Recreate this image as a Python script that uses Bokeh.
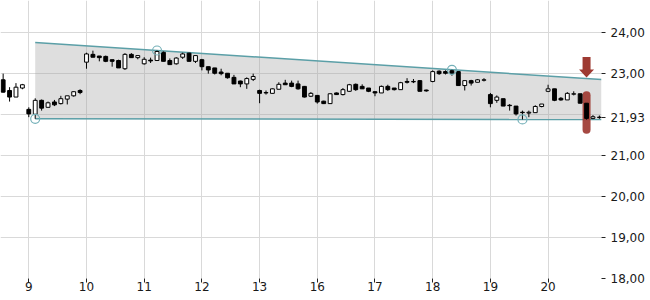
import numpy as np
from bokeh.plotting import figure
from bokeh.models import (Range1d, LinearAxis, FixedTicker, CustomJSTickFormatter,
                          Grid, ColumnDataSource)
from bokeh.embed import file_html
from bokeh.resources import INLINE

# ---------------- data ----------------
day_labels = ["9", "10", "11", "12", "13", "16", "17", "18", "19", "20"]
bars_per_day = 9
first_bar = -4  # four bars of the previous session are visible

opens = [22.84, 22.58, 22.42, 22.64,
         22.12, 22.00, 22.34, 22.17, 22.30, 22.26, 22.37, 22.45, 22.58,
         23.27, 23.46, 23.42, 23.41, 23.33, 23.31, 23.11, 23.46, 23.38,
         23.23, 23.32, 23.31, 23.51, 23.31, 23.23, 23.39, 23.49, 23.29,
         23.33, 23.16, 23.13, 23.03, 23.00, 22.90, 22.81, 22.74, 22.85,
         22.58, 22.52, 22.51, 22.61, 22.76, 22.76, 22.74, 22.68, 22.44,
         22.46, 22.32, 22.26, 22.52, 22.48, 22.56, 22.73, 22.68, 22.64,
         22.55, 22.52, 22.68, 22.64, 22.60, 22.80, 22.79, 22.82, 22.59,
         22.80, 23.05, 23.04, 23.06, 23.04, 22.70, 22.82, 22.78, 22.83,
         22.48, 22.34, 22.38, 22.22, 22.20, 22.05, 22.03, 22.04, 22.19,
         22.56, 22.62, 22.39, 22.35, 22.49, 22.50, 22.27, 21.90, 21.92]
highs = [22.99, 22.66, 22.76, 22.74,
         22.17, 22.39, 22.36, 22.31, 22.35, 22.45, 22.45, 22.56, 22.61,
         23.50, 23.55, 23.42, 23.43, 23.33, 23.33, 23.49, 23.49, 23.43,
         23.39, 23.38, 23.554, 23.53, 23.36, 23.39, 23.50, 23.50, 23.43,
         23.35, 23.16, 23.13, 23.11, 23.00, 22.96, 22.82, 22.90, 22.99,
         22.60, 22.58, 22.63, 22.78, 22.84, 22.82, 22.82, 22.69, 22.54,
         22.47, 22.33, 22.51, 22.53, 22.64, 22.74, 22.75, 22.73, 22.64,
         22.56, 22.70, 22.72, 22.64, 22.79, 22.88, 22.86, 22.83, 22.60,
         23.07, 23.07, 23.07, 23.084, 23.05, 22.82, 22.84, 22.86, 22.88,
         22.52, 22.46, 22.38, 22.25, 22.20, 22.09, 22.09, 22.22, 22.25,
         22.72, 22.62, 22.42, 22.54, 22.56, 22.50, 22.27, 21.98, 21.97]
lows = [22.53, 22.31, 22.42, 22.61,
        21.93, 21.89, 22.09, 22.17, 22.20, 22.24, 22.24, 22.43, 22.49,
        23.11, 23.39, 23.29, 23.27, 23.16, 23.13, 23.08, 23.38, 23.34,
        23.21, 23.25, 23.31, 23.29, 23.21, 23.21, 23.35, 23.29, 23.25,
        23.07, 22.99, 22.97, 22.95, 22.87, 22.74, 22.66, 22.62, 22.81,
        22.27, 22.48, 22.51, 22.61, 22.72, 22.66, 22.60, 22.41, 22.42,
        22.26, 22.25, 22.26, 22.47, 22.46, 22.55, 22.57, 22.62, 22.54,
        22.44, 22.52, 22.57, 22.58, 22.60, 22.75, 22.76, 22.56, 22.55,
        22.78, 22.96, 22.97, 22.94, 22.70, 22.58, 22.70, 22.78, 22.80,
        22.17, 22.28, 22.20, 22.09, 21.97, 21.874, 21.93, 22.04, 22.17,
        22.54, 22.32, 22.33, 22.35, 22.46, 22.27, 21.87, 21.88, 21.89]
closes = [22.54, 22.42, 22.66, 22.72,
          22.01, 22.34, 22.15, 22.28, 22.23, 22.38, 22.45, 22.55, 22.53,
          23.47, 23.39, 23.38, 23.29, 23.29, 23.13, 23.46, 23.38, 23.43,
          23.34, 23.30, 23.53, 23.29, 23.21, 23.37, 23.47, 23.29, 23.43,
          23.16, 23.08, 23.00, 22.99, 22.89, 22.74, 22.74, 22.87, 22.92,
          22.51, 22.53, 22.62, 22.73, 22.72, 22.68, 22.62, 22.42, 22.51,
          22.30, 22.26, 22.50, 22.48, 22.60, 22.72, 22.60, 22.62, 22.56,
          22.52, 22.68, 22.60, 22.60, 22.77, 22.78, 22.80, 22.56, 22.57,
          23.04, 22.99, 23.00, 22.99, 22.70, 22.82, 22.76, 22.84, 22.84,
          22.26, 22.42, 22.20, 22.21, 22.01, 22.04, 22.05, 22.19, 22.25,
          22.62, 22.34, 22.35, 22.51, 22.50, 22.27, 21.90, 21.94, 21.93]

pivot_high_bars = [20, 66]   # bars whose highs define the upper trendline
pivot_low_bars = [1, 77]     # bars whose lows define the lower trendline
highlight_bar = 87
y_tick_values = [18.0, 19.0, 20.0, 21.0, 21.93, 23.0, 24.0]
y_grid_values = [18.0, 19.0, 20.0, 21.0, 22.0, 23.0, 24.0]

# ---------------- layout constants ----------------
FRAME_W, FRAME_H = 601, 278
BAR_PX = 6.411
FIRST_DAY_PX = 28.3
x_start = -FIRST_DAY_PX / BAR_PX
x_end = x_start + FRAME_W / BAR_PX
y_start, y_end = 18.0, 24.772
DX = (x_end - x_start) / FRAME_W
DY = (y_end - y_start) / FRAME_H

TEAL = "#5b9fa7"
RED = "#9e3a32"
FONT = "DejaVu Sans"

o = np.array(opens); h = np.array(highs); l = np.array(lows); c = np.array(closes)
idx = np.arange(first_bar, first_bar + len(o))

def val_at(arr, b):
    return arr[b - first_bar]

p = figure(frame_width=FRAME_W, frame_height=FRAME_H, width=650, height=300,
           x_range=Range1d(x_start, x_end), y_range=Range1d(y_start, y_end),
           x_axis_type=None, y_axis_location="right",
           output_backend="svg", toolbar_location=None,
           min_border=0, min_border_left=0, min_border_top=0,
           min_border_right=0, min_border_bottom=0)
p.outline_line_color = None
p.background_fill_color = "white"
p.border_fill_color = "white"

day_ticks = [i * bars_per_day for i in range(len(day_labels))]

# grids
p.ygrid.ticker = FixedTicker(ticks=y_grid_values)
p.ygrid.grid_line_color = "#d9d9d9"
p.add_layout(Grid(dimension=0, ticker=FixedTicker(ticks=day_ticks),
                  grid_line_color="#d9d9d9"))

# y axis (right)
ya = p.yaxis[0]
ya.ticker = FixedTicker(ticks=y_tick_values)
ya.formatter = CustomJSTickFormatter(code="return tick.toFixed(2).replace('.', ',');")
ya.axis_line_color = None
ya.major_tick_out = 4
ya.major_tick_in = 0
ya.minor_tick_line_color = None
ya.major_tick_line_color = "#222222"
ya.major_label_standoff = 5
ya.major_label_text_font = FONT
ya.major_label_text_font_size = "12px"
ya.major_label_text_color = "#1a1a1a"

# x axis: labels just under the frame, short tick marks below the labels
xa = LinearAxis(ticker=FixedTicker(ticks=day_ticks),
                formatter=CustomJSTickFormatter(args=dict(labels=day_labels),
                                                code="return labels[Math.round(tick/9)];"))
xa.axis_line_color = None
xa.major_tick_out = 19
xa.major_tick_in = 0
xa.major_tick_line_dash = "0 15 4"
xa.minor_tick_line_color = None
xa.major_tick_line_color = "#222222"
xa.major_label_standoff = -16
xa.major_label_text_font = FONT
xa.major_label_text_font_size = "12px"
xa.major_label_text_color = "#1a1a1a"
p.add_layout(xa, "below")

# channel
hb0, hb1 = pivot_high_bars
lb0, lb1 = pivot_low_bars
top_slope = (val_at(h, hb1) - val_at(h, hb0)) / (hb1 - hb0)
bot_slope = (val_at(l, lb1) - val_at(l, lb0)) / (lb1 - lb0)
def top_line(x): return val_at(h, hb0) + top_slope * (x - hb0)
def bot_line(x): return val_at(l, lb0) + bot_slope * (x - lb0)
cx0 = min(pivot_low_bars[0], pivot_high_bars[0])
cx1 = x_end
p.patch([cx0, cx1, cx1, cx0], [top_line(cx0), top_line(cx1), bot_line(cx1), bot_line(cx0)],
        fill_color="#a0a0a0", fill_alpha=0.35, line_color=None)
p.line([cx0, cx1], [top_line(cx0), top_line(cx1)], line_color=TEAL, line_width=1.5)
p.line([cx0, cx1], [bot_line(cx0), bot_line(cx1)], line_color=TEAL, line_width=1.5)

# highlight pill behind the last big candle
hx = highlight_bar
p.segment(x0=[hx], y0=[val_at(h, hx) + 8 * DY], x1=[hx], y1=[val_at(l, hx) - 10 * DY],
          line_color=RED, line_width=8, line_cap="round", line_alpha=0.92)

# candles
up = c >= o
src = ColumnDataSource(dict(x=idx, top=np.maximum(o, c), bottom=np.minimum(o, c),
                            high=h, low=l,
                            fill=np.where(up, "white", "black")))
p.segment(x0="x", y0="low", x1="x", y1="high", source=src, line_color="black", line_width=1)
p.vbar(x="x", width=0.6, top="top", bottom="bottom", source=src,
       fill_color="fill", line_color="black", line_width=1)

# pivot circles
px_ = [hb0, hb1, lb0, lb1]
py_ = [val_at(h, hb0), val_at(h, hb1), val_at(l, lb0), val_at(l, lb1)]
p.scatter(px_, py_, size=9, marker="circle", fill_color=None, line_color="#74b0b8", line_width=1.2)

# arrow pointing at the upper trendline
yt = top_line(hx) + 1 * DY
ax = [hx, hx + 7.5 * DX, hx + 4 * DX, hx + 4 * DX, hx - 4 * DX, hx - 4 * DX, hx - 7.5 * DX]
ay = [yt, yt + 8 * DY, yt + 8 * DY, yt + 20.5 * DY, yt + 20.5 * DY, yt + 8 * DY, yt + 8 * DY]
p.patch(ax, ay, fill_color=RED, line_color=None)

open("out.html", "w").write(file_html(p, INLINE))
